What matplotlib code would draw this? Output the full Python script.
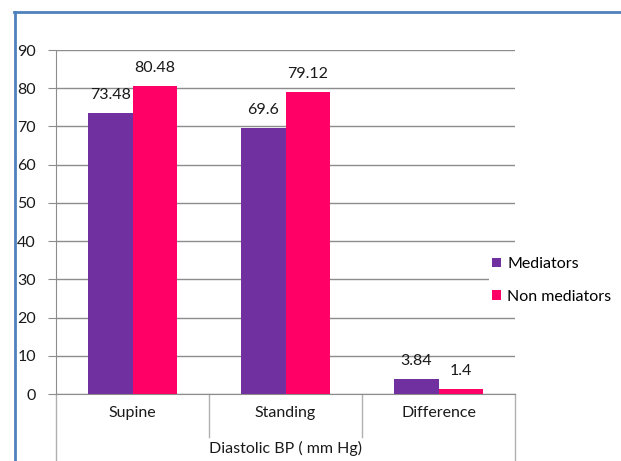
import matplotlib
matplotlib.use("Agg")
import matplotlib.pyplot as plt
from matplotlib.lines import Line2D
import numpy as np

categories = ["Supine", "Standing", "Difference"]
mediators = [73.48, 69.6, 3.84]
non_mediators = [80.48, 79.12, 1.4]
mediator_labels = ["73.48", "69.6", "3.84"]
non_mediator_labels = ["80.48", "79.12", "1.4"]
series_names = ["Mediators", "Non mediators"]
x_title = "Diastolic BP ( mm Hg)"
yticks = [0, 10, 20, 30, 40, 50, 60, 70, 80, 90]

plt.rcParams['font.family'] = ['Lato', 'DejaVu Sans']
W, H = 621, 461
fig = plt.figure(figsize=(W / 100, H / 100), dpi=100)
FS = 11.5

def fx(px):
    return px / W

def fy(py):
    return 1 - py / H

# outer blue frame
fig.add_artist(Line2D([fx(14), fx(640)], [fy(12.5), fy(12.5)], color='#4F81BD', lw=2.0,
                      transform=fig.transFigure))
fig.add_artist(Line2D([fx(14.5), fx(14.5)], [fy(12), fy(480)], color='#4F81BD', lw=2.0,
                      transform=fig.transFigure))

left, right, top, bottom = 56, 515, 50, 394
ax = fig.add_axes([fx(left), fy(bottom), fx(right) - fx(left), fy(top) - fy(bottom)])

purple = '#7030A0'
pink = '#FF0066'
grid_c = '#8C8C8C'
txt_c = '#1a1a1a'

x = np.arange(len(categories))
bw = 0.29
b1 = ax.bar(x - bw / 2, mediators, bw, color=purple, label=series_names[0], zorder=3)
b2 = ax.bar(x + bw / 2, non_mediators, bw, color=pink, label=series_names[1], zorder=3)

for bars, labs in ((b1, mediator_labels), (b2, non_mediator_labels)):
    for rect, lab in zip(bars, labs):
        ax.annotate(lab, (rect.get_x() + rect.get_width() / 2, rect.get_height()),
                    xytext=(0, 13), textcoords='offset points', ha='center', va='center',
                    fontsize=FS, color=txt_c)

ax.set_xlim(-0.5, len(categories) - 0.5)
ax.set_ylim(0, 90)
ax.set_yticks(yticks)
ax.set_yticklabels([str(t) for t in yticks], fontsize=FS)
ax.yaxis.grid(True, color=grid_c, lw=1.0, zorder=0)
ax.set_axisbelow(True)
for s in ['top', 'right']:
    ax.spines[s].set_visible(False)
ax.spines['left'].set_color(grid_c)
ax.spines['bottom'].set_color(grid_c)
ax.tick_params(axis='y', length=6, color=grid_c, pad=8.5, labelcolor=txt_c)
ax.set_xticks([])

# category separators below axis
sep_x = np.arange(len(categories) + 1) - 0.5
trans = ax.get_xaxis_transform()
h_ax = bottom - top
for i, sx in enumerate(sep_x):
    if i == 0 or i == len(sep_x) - 1:
        y_end = -(480 - bottom) / h_ax
    else:
        y_end = -(437 - bottom) / h_ax
    ax.add_line(Line2D([sx, sx], [0, y_end], transform=trans, color='#B0B0B0', lw=1.0,
                       clip_on=False))

for xi, cat in zip(x, categories):
    ax.text(xi, -(413 - bottom) / h_ax, cat, transform=trans, ha='center', va='center',
            fontsize=FS, color=txt_c)
ax.text(np.mean(x), -(448 - bottom) / h_ax, x_title, transform=trans, ha='center',
        va='center', fontsize=FS, color=txt_c)

leg = fig.legend(handles=[b1, b2], labels=series_names, loc='upper left',
                 bbox_to_anchor=(fx(489), fy(254)), frameon=True, fontsize=FS,
                 handlelength=0.55, handleheight=0.55, handletextpad=0.4,
                 labelspacing=1.15, borderpad=0.2, borderaxespad=0)
leg.get_frame().set_facecolor('white')
leg.get_frame().set_edgecolor('none')
leg.get_frame().set_alpha(1)
leg.set_zorder(5)

fig.savefig('out.png', dpi=100)
